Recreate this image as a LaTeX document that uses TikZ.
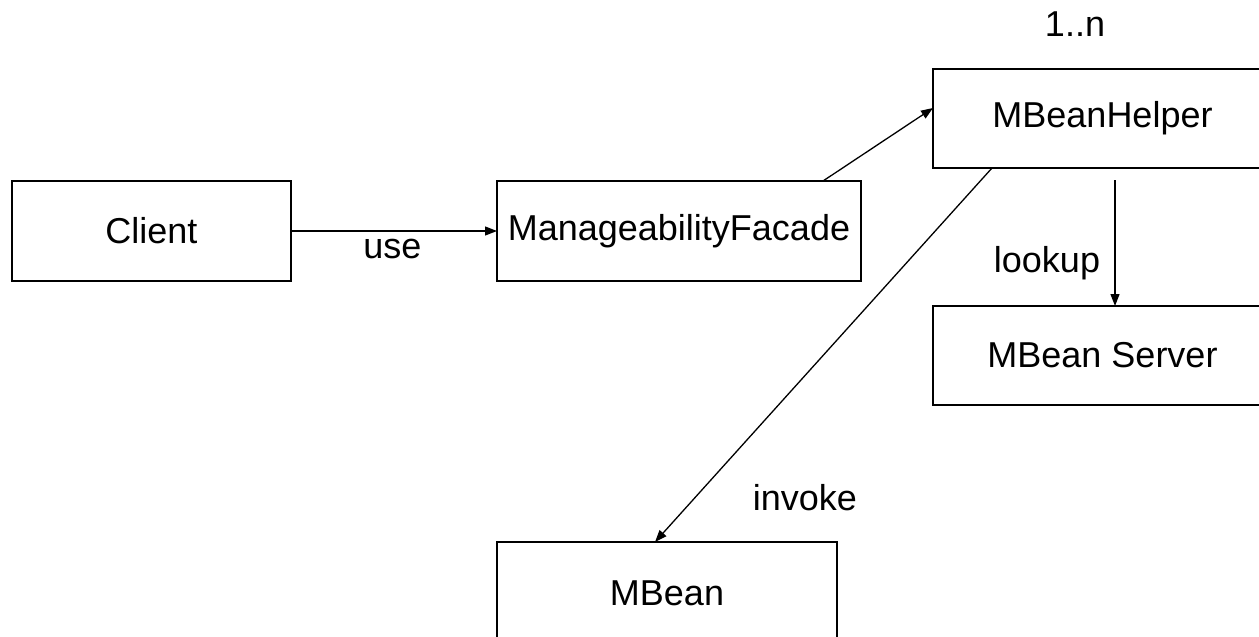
\documentclass[tikz,border=0pt]{standalone}
\usepackage{fontspec}
\setmainfont{Liberation Sans}
\usetikzlibrary{arrows.meta}
\begin{document}
\begin{tikzpicture}[x=1pt,y=-1pt,
  every node/.style={font=\fontsize{36}{43}\selectfont},
  classbox/.style={draw, line width=1.8pt, inner sep=0pt, outer sep=0pt, fill=white},
  link/.style={line width=1.3pt, -{Triangle[length=12pt,width=9pt]}},
  plain/.style={line width=1.3pt},
  tag/.style={inner sep=0pt, anchor=base}]
  \useasboundingbox (0,0) rectangle (1259,637);
  \clip (0,0) rectangle (1259,637);
  \fill[white] (0,0) rectangle (1259,637);

  % classes
  \node[classbox, minimum width=279pt, minimum height=100pt] (client) at (151.5,231) {Client};
  \node[classbox, minimum width=364pt, minimum height=100pt] (facade) at (679,231) {ManageabilityFacade};
  \node[classbox, minimum width=339pt, minimum height=99pt] (helper) at (1102.5,118.5) {MBeanHelper};
  \node[classbox, minimum width=339pt, minimum height=99pt] (server) at (1102.5,355.5) {MBean Server};
  \node[classbox, minimum width=340pt, minimum height=102pt] (mbean) at (667,593) {MBean};

  % relations
  \draw[link] (client.east) -- (facade.west);
  \draw[link] ([xshift=-38pt]facade.north east) -- ([yshift=10.5pt]helper.west);
  \coordinate (lk) at ([xshift=182pt,yshift=-12pt]helper.south west);
  \draw[link] (lk) -- (lk |- server.north);
  \draw[link] ([xshift=59pt]helper.south west) -- ([xshift=-12pt]mbean.north);

  % labels
  \node[tag] (use) at (392.5,258) {use};
  \node[tag] (lookup) at (1047,272) {lookup};
  \node[tag] (invoke) at (805,510) {invoke};
  \node[tag] (mult) at (1075,36) {1..n};
\end{tikzpicture}
\end{document}
